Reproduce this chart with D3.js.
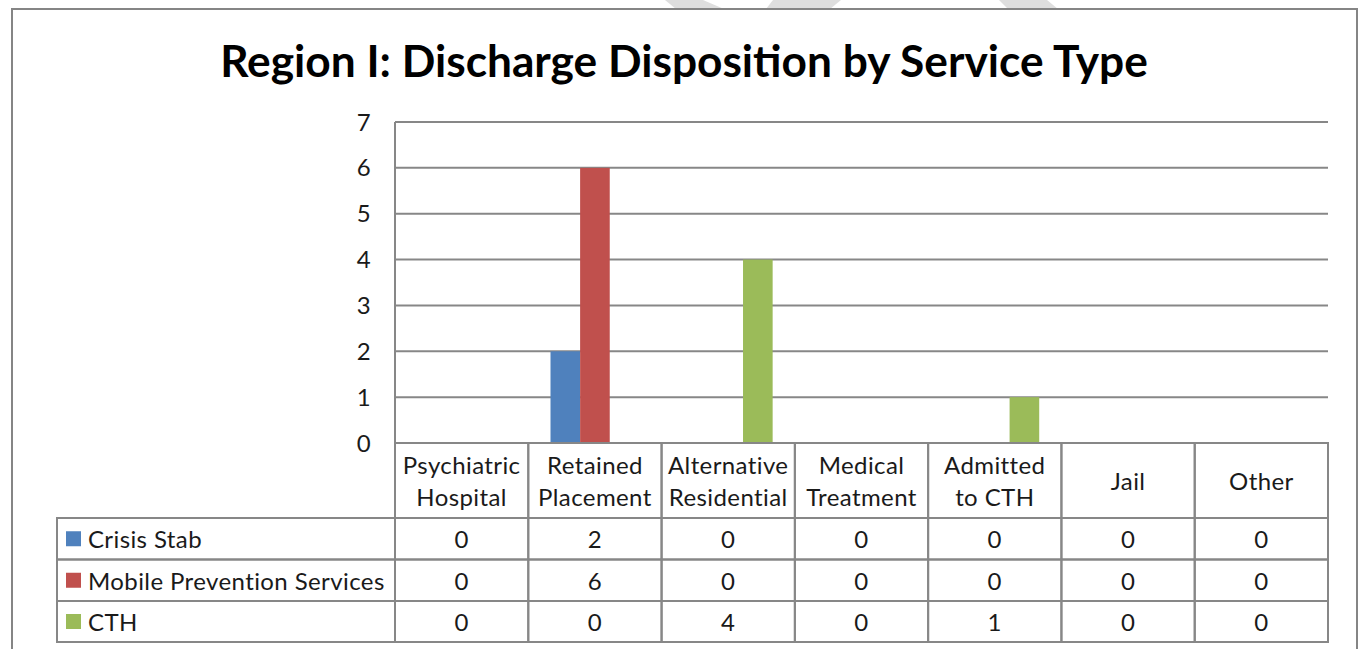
<!DOCTYPE html>
<html lang="en">
<head>
    <meta charset="utf-8" />
    <title>Region I: Discharge Disposition by Service Type</title>
    <script src="https://d3js.org/d3.v7.min.js"></script>
    <style>
        body { margin: 0; background: #fff; }
        text { font-family: Lato, "Open Sans", sans-serif; fill: #1a1a1a; }
        .lbl { font-size: 24px; letter-spacing: 0.4px; }
    </style>
</head>
<body>
    <div id="chart"></div>
    <script>
        // chart data
        var categories = [
            ["Psychiatric", "Hospital"],
            ["Retained", "Placement"],
            ["Alternative", "Residential"],
            ["Medical", "Treatment"],
            ["Admitted", "to CTH"],
            ["Jail"],
            ["Other"]
        ];
        var seriesNames = ["Crisis Stab", "Mobile Prevention Services", "CTH"];
        var seriesColors = ["#4f81bd", "#c0504d", "#9bbb59"];
        var crisisStab = [0, 2, 0, 0, 0, 0, 0];
        var mobilePrevention = [0, 6, 0, 0, 0, 0, 0];
        var cth = [0, 0, 4, 0, 1, 0, 0];
        var yTicks = [0, 1, 2, 3, 4, 5, 6, 7];

        var seriesValues = [crisisStab, mobilePrevention, cth];

        var width = 1361, height = 649;
        var gridColor = "#878787";

        var svg = d3.select("#chart").append("svg")
            .attr("width", width)
            .attr("height", height);

        // faint watermark strokes peeking above the frame
        var wm = svg.append("g").attr("fill", "#dedede");
        [[[665, 0], [703, 0], [724, 9], [676, 9]],
         [[773, 0], [841, 0], [830, 9], [766, 9]],
         [[999, 0], [1047, 0], [1058, 9], [1008, 9]]].forEach(function (p) {
            wm.append("polygon").attr("points", p.join(" "));
        });

        // outer frame
        svg.append("rect")
            .attr("x", 12).attr("y", 9)
            .attr("width", 1345).attr("height", 700)
            .attr("fill", "#fff")
            .attr("stroke", "#858585")
            .attr("stroke-width", 2);

        // title, fitted to the reference width
        var title = svg.append("text")
            .attr("x", 684).attr("y", 77)
            .attr("text-anchor", "middle")
            .style("font-weight", "bold")
            .style("font-size", "46px")
            .style("fill", "#000")
            .text("Region I: Discharge Disposition by Service Type");
        var tw = title.node().getComputedTextLength();
        if (tw > 928) title.style("font-size", (46 * 928 / tw) + "px");

        var x = d3.scaleBand()
            .domain(d3.range(categories.length))
            .range([395, 1328])
            .padding(0);

        var y = d3.scaleLinear().domain([0, 7]).range([443, 122]);

        // gridlines
        svg.append("g").selectAll("line")
            .data(yTicks.filter(function (t) { return t > 0; }))
            .join("line")
            .attr("x1", 395).attr("x2", 1328)
            .attr("y1", function (d) { return y(d); })
            .attr("y2", function (d) { return y(d); })
            .attr("stroke", gridColor)
            .attr("stroke-width", 2);

        // y axis labels
        svg.append("g").selectAll("text")
            .data(yTicks)
            .join("text")
            .attr("class", "lbl")
            .attr("x", 371)
            .attr("y", function (d) { return y(d) - 1; })
            .attr("text-anchor", "end")
            .attr("dominant-baseline", "central")
            .text(function (d) { return d; });

        // bars: Excel style gap width 150%
        var barW = x.bandwidth() / (seriesNames.length + 1.5);
        var inner = d3.scaleBand()
            .domain(d3.range(seriesNames.length))
            .range([-barW * seriesNames.length / 2, barW * seriesNames.length / 2]);

        seriesValues.forEach(function (vals, s) {
            svg.append("g").selectAll("rect")
                .data(vals)
                .join("rect")
                .attr("x", function (d, i) { return x(i) + x.bandwidth() / 2 + inner(s); })
                .attr("width", inner.bandwidth())
                .attr("y", function (d) { return y(d); })
                .attr("height", function (d) { return y(0) - y(d); })
                .attr("fill", seriesColors[s]);
        });

        // y axis line
        svg.append("line")
            .attr("x1", 395).attr("x2", 395)
            .attr("y1", y(7)).attr("y2", y(0))
            .attr("stroke", gridColor).attr("stroke-width", 2);

        // data table
        var rowTops = [443, 518, 559.5, 601, 642];
        var legendLeft = 57;
        var table = svg.append("g")
            .attr("stroke", gridColor)
            .attr("stroke-width", 2)
            .attr("fill", "none");

        // header row cells
        categories.forEach(function (c, i) {
            table.append("rect")
                .attr("x", x(i)).attr("y", rowTops[0])
                .attr("width", x.bandwidth())
                .attr("height", rowTops[1] - rowTops[0]);
        });
        // series rows
        seriesNames.forEach(function (name, s) {
            table.append("rect")
                .attr("x", legendLeft).attr("y", rowTops[s + 1])
                .attr("width", 395 - legendLeft)
                .attr("height", rowTops[s + 2] - rowTops[s + 1]);
            categories.forEach(function (c, i) {
                table.append("rect")
                    .attr("x", x(i)).attr("y", rowTops[s + 1])
                    .attr("width", x.bandwidth())
                    .attr("height", rowTops[s + 2] - rowTops[s + 1]);
            });
        });

        // header labels
        var headMid = (rowTops[0] + rowTops[1]) / 2;
        categories.forEach(function (lines, i) {
            var t = svg.append("text")
                .attr("class", "lbl")
                .attr("text-anchor", "middle");
            lines.forEach(function (ln, k) {
                var yy = lines.length === 1 ? headMid : headMid + (k === 0 ? -16 : 16);
                t.append("tspan")
                    .attr("x", x(i) + x.bandwidth() / 2)
                    .attr("y", yy)
                    .attr("dominant-baseline", "central")
                    .text(ln);
            });
        });

        // legend keys + values
        seriesNames.forEach(function (name, s) {
            var mid = (rowTops[s + 1] + rowTops[s + 2]) / 2;
            svg.append("rect")
                .attr("x", 66).attr("y", mid - 7.5)
                .attr("width", 15).attr("height", 15)
                .attr("fill", seriesColors[s]);
            svg.append("text")
                .attr("class", "lbl")
                .attr("x", 88).attr("y", mid)
                .attr("dominant-baseline", "central")
                .text(name);
            svg.append("g").selectAll("text")
                .data(seriesValues[s])
                .join("text")
                .attr("class", "lbl")
                .attr("x", function (d, i) { return x(i) + x.bandwidth() / 2; })
                .attr("y", mid)
                .attr("text-anchor", "middle")
                .attr("dominant-baseline", "central")
                .text(function (d) { return d; });
        });
    </script>
</body>
</html>
